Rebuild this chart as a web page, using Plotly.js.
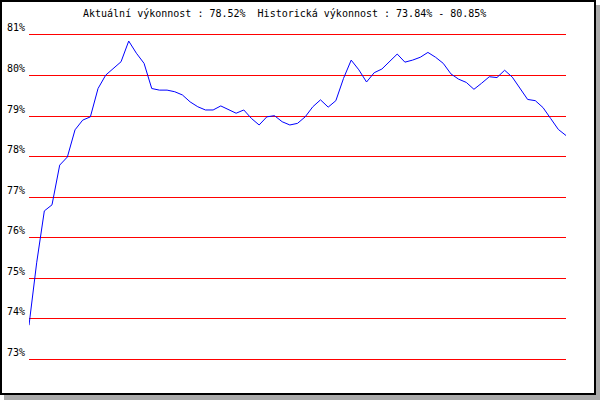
<!DOCTYPE html>
<html>
<head>
<meta charset="utf-8">
<script src="https://cdn.plot.ly/plotly-3.0.1.min.js"></script>
<style>
  html, body { margin: 0; padding: 0; background: #ffffff; }
  #frame { position: absolute; left: 0; top: 0; width: 592px; height: 391px;
           border: 2px solid #000; box-shadow: 4px 5px 0 #aaaaaa; background: #fff; }
  #chart { position: absolute; left: 0; top: 0; width: 600px; height: 400px; }
</style>
</head>
<body>
<div id="frame"></div>
<div id="chart"></div>
<script>
// performance values (%)
const performance = [
  73.84, 75.38, 76.66, 76.81, 77.79, 77.99, 78.66, 78.90, 78.98, 79.68,
  80.01, 80.18, 80.34, 80.85, 80.55, 80.30, 79.68, 79.64, 79.64, 79.60,
  79.52, 79.35, 79.23, 79.15, 79.15, 79.25, 79.15, 79.07, 79.15, 78.94,
  78.78, 78.98, 79.01, 78.86, 78.78, 78.82, 78.98, 79.23, 79.40, 79.22,
  79.38, 79.93, 80.38, 80.14, 79.84, 80.07, 80.16, 80.34, 80.53, 80.33,
  80.38, 80.45, 80.57, 80.45, 80.30, 80.04, 79.91, 79.83, 79.66, 79.81,
  79.97, 79.95, 80.13, 79.96, 79.68, 79.41, 79.38, 79.21, 78.94, 78.67,
  78.52
];
const steps = performance.map((_, i) => i);
const tickValues = [73, 74, 75, 76, 77, 78, 79, 80, 81];
const tickLabels = ["73%", "74%", "75%", "76%", "77%", "78%", "79%", "80%", "81%"];
const currentPerf = "78.52%";
const histMin = "73.84%";
const histMax = "80.85%";
const titleText = "Aktuální výkonnost : " + currentPerf + "  Historická výkonnost : " + histMin + " - " + histMax;

const trace = {
  x: steps, y: performance, type: 'scatter', mode: 'lines',
  line: { color: '#0000ff', width: 1 }, hoverinfo: 'none'
};

const layout = {
  width: 600, height: 400,
  margin: { l: 29, r: 34, t: 30, b: 35 },
  paper_bgcolor: 'rgba(0,0,0,0)', plot_bgcolor: 'rgba(0,0,0,0)',
  showlegend: false,
  title: {
    text: titleText.replace(/ /g, '&nbsp;'),
    font: { family: 'DejaVu Sans Mono', size: 10, color: '#000' },
    xref: 'container', yref: 'container',
    x: 83 / 600, xanchor: 'left', y: 1 - 13 / 400, yanchor: 'middle'
  },
  xaxis: {
    range: [0, steps.length - 1], visible: false, showgrid: false, zeroline: false
  },
  yaxis: {
    range: [72.859, 81.123], tickmode: 'array', tickvals: tickValues, ticktext: tickLabels,
    showgrid: true, gridcolor: '#ff0000', gridwidth: 1,
    zeroline: false, showline: false, ticks: '',
    ticklabelposition: 'outside top', ticklabelstandoff: 3,
    tickfont: { family: 'DejaVu Sans Mono', size: 10, color: '#000' }
  }
};

Plotly.newPlot('chart', [trace], layout, { staticPlot: true, displayModeBar: false });
</script>
</body>
</html>
